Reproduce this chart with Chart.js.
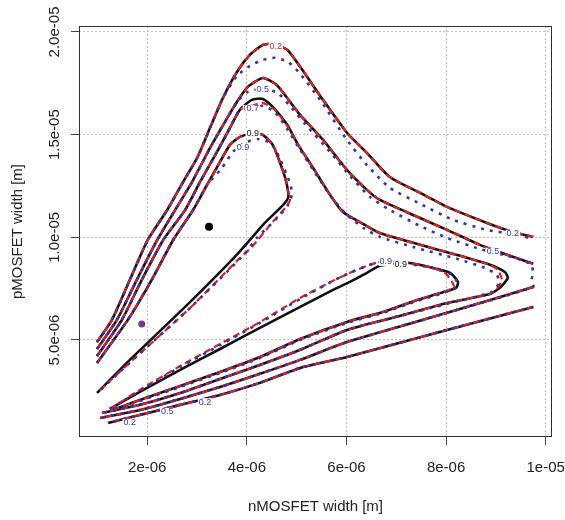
<!DOCTYPE html>
<html>
<head>
<meta charset="utf-8">
<script src="https://cdn.jsdelivr.net/npm/chart.js"></script>
<style>
  html, body { margin: 0; padding: 0; background: #fff; }
  canvas { display: block; }
</style>
</head>
<body>
<canvas id="chart" width="565" height="520"></canvas>
<script>
// all widths in micrometres (axis labels show them in metres)
const xTickValues = [2, 4, 6, 8, 10];
const xTickLabels = ['2e-06', '4e-06', '6e-06', '8e-06', '1e-05'];
const yTickValues = [5, 10, 15, 20];
const yTickLabels = ['5.0e-06', '1.0e-05', '1.5e-05', '2.0e-05'];

// black solid contours
const blk02u = [[0.99,4.90],[1.29,5.98],[1.65,7.93],[2.01,9.87],[2.40,11.33],[2.72,12.70],[3.00,13.86],[3.26,15.33],[3.52,16.79],[3.80,18.05],[4.06,18.88],[4.32,19.37],[4.52,19.42],[4.81,19.13],[5.07,18.30],[5.53,16.69],[6.01,15.09],[6.41,14.11],[6.87,12.94],[7.48,12.16],[8.02,11.48],[8.82,10.70],[9.34,10.26],[9.75,10.02]];
const blk02l = [[9.75,6.61],[8.02,5.49],[6.01,4.17],[5.07,3.64],[4.26,2.91],[3.46,2.32],[2.66,1.84],[1.85,1.35],[1.21,0.96]];
const blk05u = [[0.99,4.56],[1.39,5.98],[1.79,7.93],[2.20,9.87],[2.56,11.33],[2.90,12.70],[3.26,14.35],[3.56,15.62],[3.80,16.59],[4.02,17.33],[4.32,17.76],[4.60,17.42],[4.87,16.59],[5.07,15.96],[5.53,14.74],[6.01,13.28],[6.41,12.31],[6.67,11.82],[7.48,10.94],[8.02,10.36],[8.68,9.63],[9.34,9.05],[9.75,8.71]];
const blk05l = [[9.75,7.58],[8.02,6.32],[6.01,4.90],[5.07,4.03],[4.26,3.35],[3.46,2.71],[2.66,2.13],[1.85,1.59],[1.05,1.20]];
const blk07 = [[0.99,4.22],[1.49,5.98],[1.89,7.93],[2.32,9.87],[2.76,11.33],[3.06,12.70],[3.40,14.16],[3.66,15.33],[3.86,16.21],[4.10,16.69],[4.32,16.74],[4.52,16.35],[4.81,15.48],[5.03,14.50],[5.33,13.38],[5.67,12.07],[5.93,11.23],[6.37,10.60],[6.67,10.21],[7.34,9.73],[8.22,9.14],[8.88,8.66],[9.18,8.31],[9.24,8.02],[9.08,7.54],[8.88,7.24],[8.02,6.80],[7.07,6.17],[6.01,5.49],[5.07,4.52],[4.26,3.78],[3.46,3.10],[2.66,2.42],[1.85,1.84],[1.09,1.45]];
const blk09a = [[0.99,3.88],[1.61,5.98],[2.09,7.93],[2.52,9.87],[2.92,11.33],[3.20,12.55],[3.46,13.67],[3.66,14.50],[3.86,14.89],[4.12,15.04],[4.32,14.99],[4.52,14.50],[4.66,13.67],[4.77,12.89],[4.83,12.21],[4.83,11.92],[4.73,11.58],[4.36,10.70],[4.06,9.87],[3.70,8.90],[2.76,6.61],[1.65,4.03],[0.99,2.42]];
const blk09b = [[1.25,1.64],[1.85,2.47],[2.66,3.54],[3.46,4.56],[4.26,5.59],[5.07,6.61],[5.73,7.44],[6.07,7.83],[6.41,8.27],[6.67,8.61],[7.07,8.75],[7.27,8.75],[7.74,8.51],[8.08,8.27],[8.24,7.83],[8.20,7.54],[7.88,7.29],[7.42,6.95],[6.73,6.36],[6.01,5.88],[5.07,5.05],[4.26,4.17],[3.46,3.44],[2.66,2.76],[1.85,2.08],[1.31,1.59]];

// red dashed contours (0.2 and 0.5 sit on the black ones)
const red07 = [[0.99,4.22],[1.49,5.98],[1.89,7.93],[2.32,9.87],[2.76,11.33],[3.06,12.70],[3.40,14.16],[3.66,15.33],[3.86,16.21],[4.10,16.40],[4.32,16.55],[4.56,16.21],[4.81,15.43],[5.03,14.50],[5.33,13.38],[5.67,12.07],[5.93,11.23],[6.37,10.60],[6.67,10.21],[7.34,9.73],[8.22,9.14],[8.88,8.66],[9.04,8.41],[9.12,7.93],[9.02,7.49],[8.88,7.24],[8.02,6.80],[7.07,6.17],[6.01,5.49],[5.07,4.52],[4.26,3.78],[3.46,3.10],[2.66,2.42],[1.85,1.84],[1.09,1.45]];
const red09a = [[0.99,3.88],[1.61,5.98],[2.09,7.93],[2.52,9.87],[2.92,11.33],[3.20,12.55],[3.46,13.67],[3.66,14.50],[3.86,14.89],[4.12,15.04],[4.32,14.99],[4.52,14.50],[4.66,13.67],[4.77,12.89],[4.83,12.21],[4.87,11.82],[4.77,11.43],[4.50,10.70],[4.10,9.53],[3.82,8.90],[2.86,6.56],[1.75,4.12],[0.99,2.42]];
const red09b = [[1.25,1.64],[1.85,2.57],[2.66,3.73],[3.46,4.80],[4.26,5.87],[5.07,7.05],[5.73,7.88],[6.07,8.27],[6.41,8.61],[6.67,8.80],[7.07,8.80],[7.27,8.75],[7.74,8.51],[8.00,8.22],[8.16,7.58],[7.88,7.29],[7.42,6.95],[6.73,6.36],[6.01,5.88],[5.07,5.05],[4.26,4.17],[3.46,3.44],[2.66,2.76],[1.85,2.08],[1.31,1.59]];

// blue dotted contours
const blu02u = [[0.99,4.90],[1.29,5.98],[1.65,7.93],[2.01,9.87],[2.40,11.33],[2.72,12.70],[3.00,13.86],[3.26,15.33],[3.52,16.79],[3.80,17.86],[4.06,18.35],[4.32,18.64],[4.57,18.74],[4.83,18.54],[5.07,17.96],[5.47,16.69],[6.01,14.74],[6.41,13.52],[6.87,12.41],[7.48,11.63],[8.14,10.85],[8.82,10.36],[9.34,10.17],[9.75,9.92]];
const blu05 = [[0.99,4.56],[1.39,5.98],[1.79,7.93],[2.20,9.87],[2.56,11.33],[2.90,12.70],[3.26,14.35],[3.56,15.62],[3.80,16.59],[4.02,17.08],[4.32,17.23],[4.62,17.03],[4.90,16.30],[5.17,15.52],[5.67,14.16],[6.07,12.99],[6.47,11.97],[6.87,11.33],[7.48,10.55],[8.02,9.97],[8.68,9.43],[9.08,9.19],[9.38,9.00],[9.69,8.71],[9.75,8.31],[9.71,7.87],[9.75,7.58],[8.02,6.32],[6.01,4.90],[5.07,4.03],[4.26,3.35],[3.46,2.71],[2.66,2.13],[1.85,1.59],[1.05,1.20]];
const blu07 = [[0.99,4.22],[1.49,5.98],[1.89,7.93],[2.32,9.87],[2.76,11.33],[3.06,12.70],[3.40,14.16],[3.66,15.33],[3.86,16.21],[4.10,16.30],[4.32,16.40],[4.56,16.11],[4.82,15.23],[5.07,14.26],[5.37,13.14],[5.71,11.92],[6.01,11.09],[6.37,10.41],[6.67,10.02],[7.34,9.53],[8.22,8.95],[8.78,8.51],[9.02,8.17],[9.06,7.78],[8.92,7.34],[8.02,6.76],[7.07,6.17],[6.01,5.49],[5.07,4.52],[4.26,3.78],[3.46,3.10],[2.66,2.42],[1.85,1.84],[1.09,1.45]];
const blu09a = [[0.99,3.88],[1.61,5.98],[2.09,7.93],[2.52,9.87],[2.92,11.33],[3.20,12.55],[3.50,13.38],[3.72,14.16],[3.96,14.60],[4.22,14.79],[4.47,14.60],[4.66,13.86],[4.80,13.04],[4.88,12.55],[4.90,12.07],[4.83,11.58],[4.57,10.84],[4.22,10.02],[3.90,9.05],[2.86,6.56],[1.75,4.12],[0.99,2.42]];
const blu09b = [[1.25,1.64],[1.85,2.52],[2.66,3.68],[3.46,4.75],[4.26,5.83],[5.07,7.00],[5.73,7.88],[6.07,8.27],[6.41,8.61],[6.67,8.80],[7.07,8.75],[7.74,8.51],[8.08,8.22],[8.22,7.83],[8.18,7.54],[7.88,7.24],[7.42,6.90],[6.73,6.32],[6.01,5.83],[5.07,5.00],[4.26,4.12],[3.46,3.39],[2.66,2.71],[1.85,2.03],[1.31,1.55]];

// optimum markers
const blkOptimum = [[3.24, 10.51]];
const mixOptimum = [[1.89, 5.78]];

// contour level labels: [text, x, y, colour key]
const contourLabels = [
  ['0.2', 4.58, 19.31, 'red'],
  ['0.5', 4.32, 17.18, 'blue'],
  ['0.7', 4.06, 16.25, 'red'],
  ['0.7', 4.12, 16.25, 'blue'],
  ['0.9', 4.12, 15.04, 'black'],
  ['0.9', 3.92, 14.35, 'blue'],
  ['0.2', 9.34, 10.17, 'blue'],
  ['0.5', 8.94, 9.29, 'blue'],
  ['0.9', 6.79, 8.80, 'blue'],
  ['0.9', 7.09, 8.66, 'black'],
  ['0.2', 1.65, 0.96, 'blue'],
  ['0.5', 2.40, 1.50, 'blue'],
  ['0.2', 3.16, 1.97, 'blue'],
];

const COLORS = { black: '#111111', red: '#dd2020', blue: '#3434a8' };
const FONT = '"Liberation Sans", Arial, sans-serif';
const TEXT = '#222222';

const toXY = (pts) => pts.map(([x, y]) => ({ x, y }));

const contour = (pts, key, order) => ({
  data: toXY(pts),
  showLine: true,
  pointRadius: 0,
  borderColor: COLORS[key],
  borderWidth: key === 'red' ? 2.2 : 2.6,
  borderDash: key === 'black' ? [] : key === 'red' ? [7, 4] : [3, 6],
  borderCapStyle: 'butt',
  borderJoinStyle: 'round',
  tension: 0.2,
  order,
});

const marker = (pts, color, radius) => ({
  data: toXY(pts),
  pointRadius: radius,
  pointBackgroundColor: color,
  pointBorderWidth: 0,
  order: 0,
});

const datasets = [
  ...[blk02u, blk02l, blk05u, blk05l, blk07, blk09a, blk09b].map((p) => contour(p, 'black', 3)),
  ...[blk02u, blk02l, blk05u, blk05l, red07, red09a, red09b].map((p) => contour(p, 'red', 2)),
  ...[blu02u, blk02l, blu05, blu07, blu09a, blu09b].map((p) => contour(p, 'blue', 1)),
  marker(blkOptimum, '#000000', 4),
  marker(mixOptimum, '#6a3d9a', 3.5),
];

const boxPlugin = {
  id: 'box',
  afterDatasetsDraw(chart) {
    const { ctx, chartArea: a } = chart;
    ctx.save();
    ctx.strokeStyle = '#333';
    ctx.lineWidth = 1;
    ctx.strokeRect(a.left + 0.5, a.top + 0.5, a.right - a.left - 1, a.bottom - a.top - 1);
    ctx.restore();
  },
};

const labelPlugin = {
  id: 'contourLabels',
  afterDatasetsDraw(chart) {
    const { ctx, scales: { x, y } } = chart;
    ctx.save();
    ctx.font = `9px ${FONT}`;
    ctx.textAlign = 'center';
    ctx.textBaseline = 'middle';
    contourLabels.forEach(([text, vx, vy, key]) => {
      const px = x.getPixelForValue(vx);
      const py = y.getPixelForValue(vy);
      const w = ctx.measureText(text).width;
      ctx.fillStyle = '#fff';
      ctx.fillRect(px - w / 2 - 1, py - 4, w + 2, 8);
      ctx.fillStyle = COLORS[key];
      ctx.fillText(text, px, py);
    });
    ctx.restore();
  },
};

const axisFont = { family: FONT, size: 15 };

new Chart(document.getElementById('chart'), {
  type: 'scatter',
  data: { datasets },
  options: {
    responsive: false,
    animation: false,
    layout: { padding: { left: 0, right: 13, top: 26, bottom: 0 } },
    plugins: { legend: { display: false }, tooltip: { enabled: false } },
    scales: {
      x: {
        type: 'linear',
        min: 0.629,
        max: 10.127,
        afterBuildTicks: (s) => { s.ticks = xTickValues.map((value) => ({ value })); },
        afterFit: (s) => { s.height = 83; s.paddingLeft = 0; s.paddingRight = 0; },
        ticks: {
          callback: (v) => xTickLabels[xTickValues.indexOf(v)],
          font: axisFont, color: TEXT, padding: 14, maxRotation: 0, autoSkip: false,
        },
        grid: { color: '#c4c4c4', lineWidth: 1, tickColor: '#444', tickLength: 8, tickWidth: 1 },
        border: { display: false, dash: [2, 2] },
        title: { display: true, text: 'nMOSFET width [m]', font: axisFont, color: TEXT, padding: { top: 0, bottom: 4 } },
      },
      y: {
        type: 'linear',
        min: 0.275,
        max: 20.29,
        afterBuildTicks: (s) => { s.ticks = yTickValues.map((value) => ({ value })); },
        afterFit: (s) => { s.width = 79; s.paddingTop = 0; s.paddingBottom = 0; },
        ticks: {
          callback: (v) => yTickLabels[yTickValues.indexOf(v)],
          font: axisFont, color: TEXT, padding: -9, minRotation: 90, maxRotation: 90,
          crossAlign: 'center', autoSkip: false,
        },
        grid: { color: '#c4c4c4', lineWidth: 1, tickColor: '#444', tickLength: 8, tickWidth: 1 },
        border: { display: false, dash: [2, 2] },
        title: { display: true, text: 'pMOSFET width [m]', font: axisFont, color: TEXT, padding: { top: 9, bottom: 0 } },
      },
    },
  },
  plugins: [boxPlugin, labelPlugin],
});
</script>
</body>
</html>
